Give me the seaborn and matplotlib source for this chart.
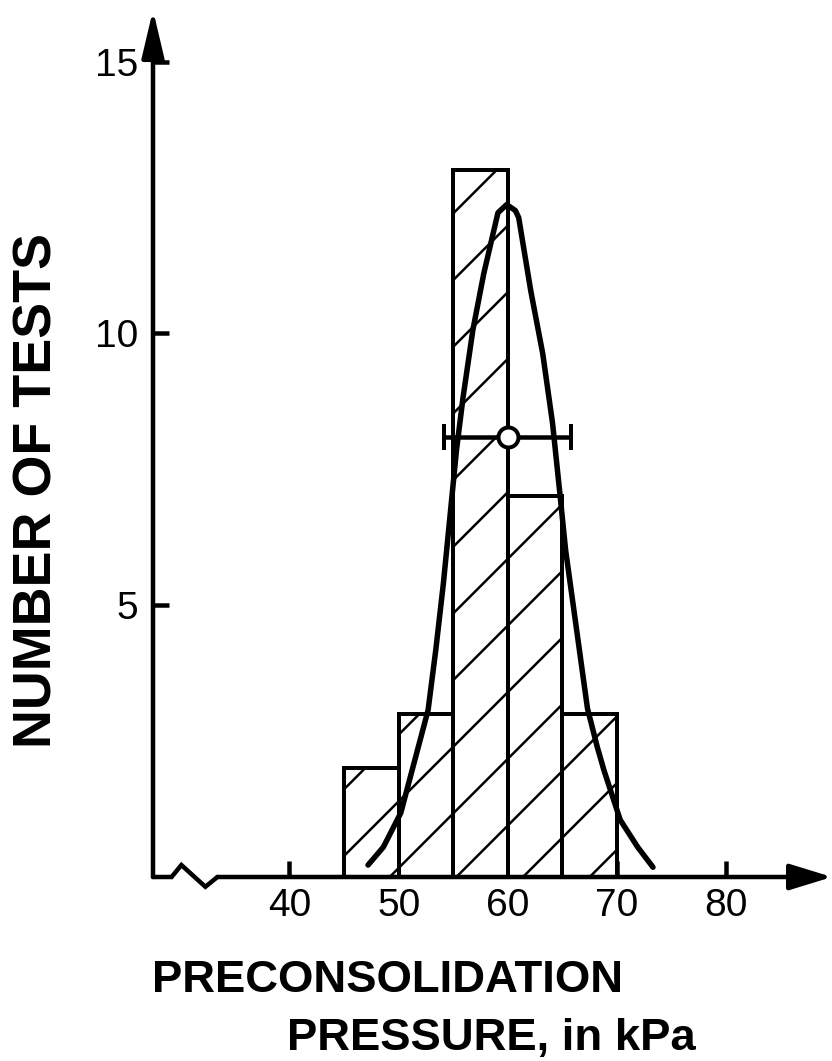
#!/usr/bin/env python3
"""Histogram of preconsolidation pressure with fitted curve and mean +/- spread."""

import matplotlib

matplotlib.use("Agg")
import matplotlib.pyplot as plt
import seaborn as sns

# histogram bins (kPa) and counts
bin_edges = [45, 50, 55, 60, 65, 70]
bin_centers = [47.5, 52.5, 57.5, 62.5, 67.5]
test_counts = [2, 3, 13, 7, 3]

# hand-drawn distribution curve
curve_x = [47.2, 48.6, 50.2, 51.8, 52.7, 53.4, 54.1, 55.3, 55.9, 56.8, 57.8,
           59.1, 59.9, 60.7, 61.0, 62.1, 63.2, 64.1, 64.8, 65.3, 66.4, 67.3,
           68.2, 68.8, 70.3, 71.9, 73.3]
curve_y = [0.22, 0.55, 1.18, 2.39, 3.07, 4.17, 5.40, 7.85, 8.82, 10.06, 11.10,
           12.22, 12.37, 12.26, 12.13, 10.79, 9.63, 8.35, 7.00, 6.01, 4.41, 3.10,
           2.39, 1.97, 1.05, 0.55, 0.18]

# mean and spread marker
mean_pressure = 60.0
mean_level = 8.1
pressure_spread = 5.8

x_ticks = [40, 50, 60, 70, 80]
y_ticks = [5, 10, 15]

DPI = 400
PX = 72 / DPI  # one output pixel, in points

sns.set_style("white")
plt.rcParams["font.family"] = ["Liberation Sans", "DejaVu Sans"]
plt.rcParams["hatch.linewidth"] = 2.5 * PX
for key in ("text.color", "axes.labelcolor", "xtick.color", "ytick.color"):
    plt.rcParams[key] = "black"

fig = plt.figure(figsize=(832 / DPI, 1061 / DPI), dpi=DPI)
ax = fig.add_axes([153 / 832, 1 - 877 / 1061, 679 / 832, 867 / 1061])

sns.histplot(
    x=bin_centers,
    weights=test_counts,
    bins=bin_edges,
    ax=ax,
    color="white",
    edgecolor="black",
    linewidth=4 * PX,
    alpha=1,
    hatch="//",
    zorder=2,
)

sns.lineplot(
    x=curve_x,
    y=curve_y,
    ax=ax,
    color="black",
    linewidth=5.5 * PX,
    zorder=3,
    solid_capstyle="round",
    solid_joinstyle="round",
)

ax.errorbar(
    mean_pressure,
    mean_level,
    xerr=pressure_spread,
    fmt="o",
    ms=20 * PX,
    mfc="white",
    mec="black",
    mew=4 * PX,
    ecolor="black",
    elinewidth=4.5 * PX,
    capsize=13 * PX,
    capthick=5.5 * PX,
    zorder=4,
)

ax.set_xlim(27.5, 89.7)
ax.set_ylim(0, 15.95)
for side in ax.spines.values():
    side.set_visible(False)

# axes drawn by hand: y axis with arrow, x axis with a break and arrow
axis_lw = 4.5 * PX
ax.annotate(
    "", xy=(0, 1), xytext=(0, 0), xycoords="axes fraction",
    arrowprops=dict(arrowstyle="-|>,head_length=0.72,head_width=0.17",
                    mutation_scale=10, lw=axis_lw, color="black",
                    shrinkA=0, shrinkB=0),
    annotation_clip=False,
)
ax.plot([27.5, 29.2, 30.1, 32.3, 33.4], [0, 0, 0.22, -0.18, 0],
        color="black", lw=axis_lw, clip_on=False, solid_joinstyle="miter")
ax.annotate(
    "", xy=(89.7, 0), xytext=(33.4, 0), xycoords="data",
    arrowprops=dict(arrowstyle="-|>,head_length=0.65,head_width=0.2",
                    mutation_scale=10, lw=axis_lw, color="black",
                    shrinkA=0, shrinkB=0),
    annotation_clip=False,
)

ax.set_xticks(x_ticks)
ax.set_yticks(y_ticks)
ax.tick_params(axis="both", direction="in", length=16 * PX, width=4.5 * PX,
               labelsize=7.0, bottom=True, left=True)
ax.tick_params(axis="x", pad=2.0)
ax.tick_params(axis="y", pad=2.7)
ax.set(xlabel="", ylabel="")

fig.text(38 / 832, 1 - 490 / 1061, "NUMBER OF TESTS", rotation=90,
         ha="center", va="center", fontsize=9.7, fontweight="bold")
fig.text(152 / 832, 1 - 992 / 1061, "PRECONSOLIDATION",
         ha="left", va="baseline", fontsize=8.2, fontweight="bold")
fig.text(287 / 832, 1 - 1050 / 1061, "PRESSURE, in kPa",
         ha="left", va="baseline", fontsize=8.2, fontweight="bold")

fig.savefig("out.png", dpi=DPI, facecolor="white")
